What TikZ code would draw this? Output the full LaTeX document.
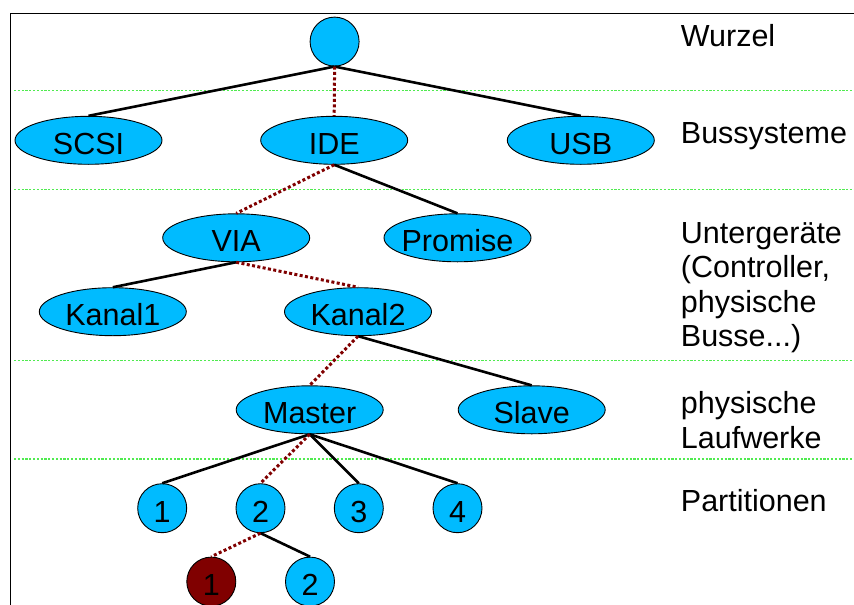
\documentclass[tikz,border=0pt]{standalone}
\usepackage{fontspec}
\setmainfont{Liberation Sans}
\usetikzlibrary{shapes.geometric}
\definecolor{nodeblue}{RGB}{0,187,255}
\definecolor{pathred}{RGB}{128,0,0}
\definecolor{levelgreen}{RGB}{80,235,80}
\tikzset{
  treenode/.style={draw=black, line width=0.9pt, fill=nodeblue, inner sep=0pt,
    minimum height=48pt, text height=28pt, text depth=0pt,
    font=\fontsize{30.5}{34.5}\selectfont},
  oval/.style={treenode, ellipse, minimum width=147pt},
  disc/.style={treenode, circle, minimum size=49pt},
  marked/.style={fill=pathred},
  edge/.style={line width=2.6pt, black},
  pathedge/.style={line width=3pt, pathred, dash pattern=on 3pt off 2.4pt},
  level/.style={line width=1.2pt, levelgreen, dash pattern=on 2.2pt off 1.6pt},
  levelname/.style={anchor=base west, align=left, inner sep=0pt,
    font=\fontsize{30.5}{34.5}\selectfont}
}
\newcommand{\nodetext}[1]{\makebox[0pt]{#1}}
\begin{document}
\begin{tikzpicture}[x=1pt, y=-1pt]
  \useasboundingbox (0,0) rectangle (854,605);
  % frame (top and left edge only)
  \draw[line width=1.1pt] (10.7,605) -- (10.7,13.3) -- (854,13.3);

  % level separators
  \foreach \yy in {90.7, 189.2, 360.8, 459}
    \draw[level] (14,\yy) -- (854,\yy);

  % nodes
  \node[disc] (root) at (334.6,41.6) {};
  \node[oval] (scsi) at (88.5,140.3) {\nodetext{SCSI}};
  \node[oval] (ide) at (334.2,140.3) {\nodetext{IDE}};
  \node[oval] (usb) at (580.8,140.3) {\nodetext{USB}};
  \node[oval] (via) at (236.2,237.8) {\nodetext{VIA}};
  \node[oval] (promise) at (457.5,237.8) {\nodetext{Promise}};
  \node[oval] (kanal1) at (112.8,311.7) {\nodetext{Kanal1}};
  \node[oval] (kanal2) at (358,311.7) {\nodetext{Kanal2}};
  \node[oval] (master) at (309.7,409.8) {\nodetext{Master}};
  \node[oval] (slave) at (531.7,409.8) {\nodetext{Slave}};
  \node[disc] (p1) at (162.2,508.2) {\nodetext{1}};
  \node[disc] (p2) at (260.5,508.2) {\nodetext{2}};
  \node[disc] (p3) at (358.8,508.2) {\nodetext{3}};
  \node[disc] (p4) at (457.5,508.2) {\nodetext{4}};
  \node[disc, marked] (s1) at (211.3,581.6) {\nodetext{1}};
  \node[disc] (s2) at (310,581.6) {\nodetext{2}};

  % tree edges
  \draw[edge] (root.south) -- (scsi.north);
  \draw[edge] (root.south) -- (usb.north);
  \draw[edge] (ide.south) -- (promise.north);
  \draw[edge] (via.south) -- (kanal1.north);
  \draw[edge] (kanal2.south) -- (slave.north);
  \draw[edge] (master.south) -- (p1.north);
  \draw[edge] (master.south) -- (p3.north);
  \draw[edge] (master.south) -- (p4.north);
  \draw[edge] (p2.south) -- (s2.north);

  % highlighted path to the selected partition
  \draw[pathedge] (root.south) -- (ide.north);
  \draw[pathedge] (ide.south) -- (via.north);
  \draw[pathedge] (via.south) -- (kanal2.north);
  \draw[pathedge] (kanal2.south) -- (master.north);
  \draw[pathedge] (master.south) -- (p2.north);
  \draw[pathedge] (p2.south) -- (s1.north);

  % level names (multi-line names sit on the baseline of their last line)
  \node[levelname] (lroot) at (680.7,46) {Wurzel};
  \node[levelname] (lbus) at (680.7,143.3) {Bussysteme};
  \node[levelname] (ldev) at (680.7,346.5) {Untergeräte\\(Controller,\\physische\\Busse...)};
  \node[levelname] (ldrive) at (680.7,448) {physische\\Laufwerke};
  \node[levelname] (lpart) at (680.7,511.7) {Partitionen};
\end{tikzpicture}
\end{document}
